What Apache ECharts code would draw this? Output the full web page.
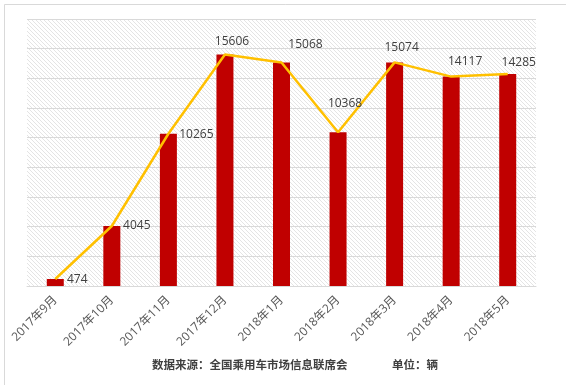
<!DOCTYPE html>
<html><head><meta charset="utf-8">
<script src="https://cdn.jsdelivr.net/npm/echarts@6/dist/echarts.min.js"></script>
<style>html,body{margin:0;padding:0;background:#fff}#c{width:566px;height:385px}</style>
</head><body><div id="c"></div>
<script>
const categories = ['2017年9月','2017年10月','2017年11月','2017年12月','2018年1月','2018年2月','2018年3月','2018年4月','2018年5月'];
const salesValues = [474, 4045, 10265, 15606, 15068, 10368, 15074, 14117, 14285];
const sourceText = '数据来源：全国乘用车市场信息联席会';
const unitText = '单位：辆';
const labelOffsets = [[22,1],[25,0],[28,1],[7,-13],[24,-18],[7,-29],[7,-15],[14,-15],[11,-12]];

const pc = document.createElement('canvas');
pc.width = 4; pc.height = 4;
const g = pc.getContext('2d');
g.fillStyle = '#ffffff'; g.fillRect(0,0,4,4);
g.fillStyle = '#e4e4e4';
for (let i = 0; i < 4; i++) { g.fillRect(i, i, 1, 1); }

const FONT = "'Open Sans','Noto Sans CJK SC',sans-serif";
const chart = echarts.init(document.getElementById('c'));
chart.setOption({
  animation: false,
  backgroundColor: '#fff',
  grid: { left: 27, right: 30, top: 19, bottom: 99, show: true, borderWidth: 0,
          backgroundColor: { image: pc, repeat: 'repeat' } },
  xAxis: {
    type: 'category', data: categories,
    axisLine: { lineStyle: { color: '#D9D9D9' } },
    axisTick: { show: false },
    axisLabel: { rotate: 45, color: '#595959', fontSize: 12, fontFamily: FONT, margin: 12, interval: 0 }
  },
  yAxis: {
    type: 'value', min: 0, max: 18000, interval: 2000,
    axisLabel: { show: false }, axisLine: { show: false }, axisTick: { show: false },
    splitLine: { lineStyle: { color: '#D9D9D9', width: 1 } }
  },
  series: [
    { type: 'bar', data: salesValues, barWidth: 17, itemStyle: { color: '#C00000' } },
    { type: 'line', data: salesValues.map((v, i) => ({
        value: v,
        label: { show: true, position: 'inside', offset: labelOffsets[i] }
      })),
      symbol: 'circle', symbolSize: 1, showSymbol: true,
      itemStyle: { color: 'rgba(0,0,0,0)' },
      lineStyle: { color: '#FFC000', width: 2.5 },
      label: { show: true, color: '#404040', fontSize: 12, fontFamily: FONT }
    }
  ],
  graphic: [
    { type: 'rect', shape: { x: 4.5, y: 4.5, width: 700, height: 500 }, style: { fill: 'none', stroke: '#D9D9D9', lineWidth: 1 }, silent: true, z: -1 },
    { type: 'text', left: 152, top: 359, style: { text: sourceText, font: "bold 11.5px 'Noto Sans CJK SC'", fill: '#404040' } },
    { type: 'text', left: 392, top: 359, style: { text: unitText, font: "bold 11.5px 'Noto Sans CJK SC'", fill: '#404040' } }
  ]
});
</script></body></html>
